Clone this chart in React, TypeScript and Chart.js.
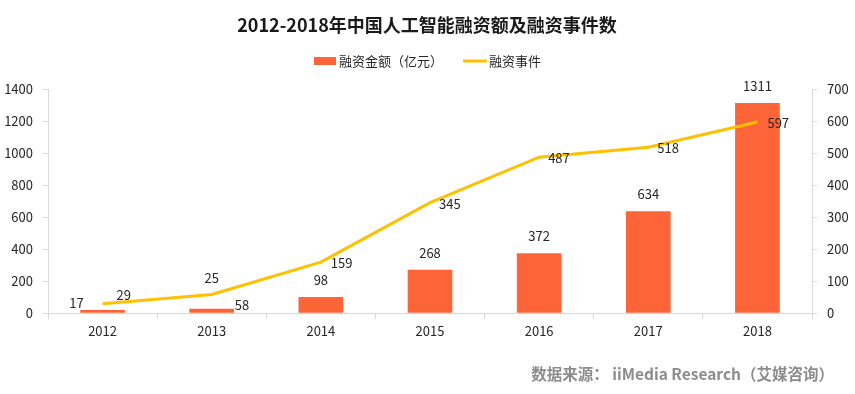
import React, { useEffect, useRef } from "react";
import { Chart, registerables } from "chart.js";

Chart.register(...registerables);

const years = ["2012", "2013", "2014", "2015", "2016", "2017", "2018"];
const amount = [17, 25, 98, 268, 372, 634, 1311];
const events = [29, 58, 159, 345, 487, 518, 597];
const leftTicks = { min: 0, max: 1400, step: 200 };
const rightTicks = { min: 0, max: 700, step: 100 };

// label placement tweaks (offsets in px from the default position)
const barLabelDx = [-26, 0, 0, 0, 0, 0, 0];
const barLabelDy = [-7, -31, -17, -17, -17, -17, -17];
const lineLabelDx = [14, 23, 10, 9, 9, 9, 10];
const lineLabelDy = [-9, 11, 1, 1, 1, 1, 1];

const TITLE = "2012-2018年中国人工智能融资额及融资事件数";
const SERIES_BAR = "融资金额（亿元）";
const SERIES_LINE = "融资事件";
const SOURCE = "数据来源： iiMedia Research（艾媒咨询）";

const FONT = '"Noto Sans CJK SC", "Noto Sans", sans-serif';
const BAR_COLOR = "#FD6437";
const LINE_COLOR = "#FFC000";
const AXIS_COLOR = "#d9d9d9";
const TEXT_COLOR = "#262626";

const decorPlugin = {
  id: "decor",
  afterDatasetsDraw(chart: any) {
    const ctx = chart.ctx;
    ctx.save();
    // data labels
    ctx.font = `13px ${FONT}`;
    ctx.fillStyle = TEXT_COLOR;
    const barMeta = chart.getDatasetMeta(1);
    barMeta.data.forEach((el: any, i: number) => {
      ctx.textAlign = "center";
      ctx.textBaseline = "middle";
      ctx.fillText(String(amount[i]), el.x + barLabelDx[i], el.y + barLabelDy[i]);
    });
    const lineMeta = chart.getDatasetMeta(0);
    lineMeta.data.forEach((el: any, i: number) => {
      ctx.textAlign = "left";
      ctx.textBaseline = "middle";
      ctx.fillText(String(events[i]), el.x + lineLabelDx[i], el.y + lineLabelDy[i]);
    });

    // title
    ctx.font = `bold 18px ${FONT}`;
    ctx.fillStyle = "#1a1a1a";
    ctx.textAlign = "center";
    ctx.textBaseline = "middle";
    ctx.fillText(TITLE, 427, 25);

    // legend
    ctx.font = `13px ${FONT}`;
    ctx.fillStyle = BAR_COLOR;
    ctx.fillRect(314, 57, 22, 8);
    ctx.fillStyle = TEXT_COLOR;
    ctx.textAlign = "left";
    ctx.fillText(SERIES_BAR, 339, 61);
    ctx.strokeStyle = LINE_COLOR;
    ctx.lineWidth = 3;
    ctx.beginPath();
    ctx.moveTo(463, 61);
    ctx.lineTo(487, 61);
    ctx.stroke();
    ctx.fillText(SERIES_LINE, 489, 61);

    // source
    ctx.font = `bold 15.5px ${FONT}`;
    ctx.fillStyle = "#8c8c8c";
    ctx.textAlign = "right";
    ctx.fillText(SOURCE, 834, 374);
    ctx.restore();
  },
};

export default function App() {
  const ref = useRef<HTMLCanvasElement>(null);
  useEffect(() => {
    if (!ref.current) return;
    const chart = new Chart(ref.current, {
      type: "bar",
      data: {
        labels: years,
        datasets: [
          {
            type: "line",
            label: SERIES_LINE,
            data: events,
            yAxisID: "y1",
            borderColor: LINE_COLOR,
            backgroundColor: LINE_COLOR,
            borderWidth: 3,
            pointRadius: 0,
            tension: 0,
            order: 0,
          },
          {
            type: "bar",
            label: SERIES_BAR,
            data: amount,
            yAxisID: "y",
            backgroundColor: BAR_COLOR,
            barThickness: 44,
            order: 1,
          },
        ],
      },
      plugins: [decorPlugin],
      options: {
        responsive: false,
        animation: false,
        devicePixelRatio: 1,
        layout: { padding: { top: 89, bottom: 51, left: 0, right: 0 } },
        plugins: {
          legend: { display: false },
          title: { display: false },
          tooltip: { enabled: false },
        },
        scales: {
          x: {
            offset: true,
            grid: {
              offset: true,
              drawOnChartArea: false,
              drawTicks: true,
              tickLength: 6,
              color: AXIS_COLOR,
            },
            border: { color: AXIS_COLOR },
            ticks: { font: { family: FONT, size: 13 }, color: TEXT_COLOR, padding: 4 },
            afterFit: (s: any) => {
              s.height = 30;
            },
          },
          y: {
            position: "left",
            min: leftTicks.min,
            max: leftTicks.max,
            ticks: {
              stepSize: leftTicks.step,
              font: { family: FONT, size: 13 },
              color: TEXT_COLOR,
              padding: 10,
              callback: (v: any) => String(v),
            },
            grid: { drawOnChartArea: false, drawTicks: true, tickLength: 5, color: AXIS_COLOR },
            border: { color: AXIS_COLOR },
            afterFit: (s: any) => {
              s.width = 48;
            },
          },
          y1: {
            position: "right",
            min: rightTicks.min,
            max: rightTicks.max,
            ticks: {
              stepSize: rightTicks.step,
              font: { family: FONT, size: 13 },
              color: TEXT_COLOR,
              padding: 10,
              callback: (v: any) => String(v),
            },
            grid: { drawOnChartArea: false, drawTicks: true, tickLength: 5, color: AXIS_COLOR },
            border: { color: AXIS_COLOR },
            afterFit: (s: any) => {
              s.width = 43;
            },
          },
        },
      },
    } as any);
    return () => chart.destroy();
  }, []);
  return (
    <div style={{ position: "fixed", left: 0, top: 0, width: 855, height: 394, background: "#fff" }}>
      <canvas ref={ref} width={855} height={394} style={{ display: "block" }} />
    </div>
  );
}
